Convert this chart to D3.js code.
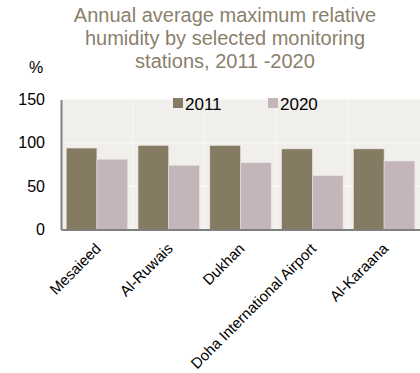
<!DOCTYPE html>
<html>
<head>
<meta charset="utf-8">
<script src="https://cdn.jsdelivr.net/npm/d3@7"></script>
<style>
  body { margin: 0; background: #fff; }
  svg text { font-family: "Liberation Sans", Arial, sans-serif; }
</style>
</head>
<body>
<div id="chart"></div>
<script>
// data
let stations = ["Mesaieed", "Al-Ruwais", "Dukhan", "Doha International Airport", "Al-Karaana"];
let years = ["2011", "2020"];
let values2011 = [94, 97, 97, 93, 93];
let values2020 = [81, 74, 77, 62, 79];
let yTicks = [0, 50, 100, 150];
let titleLines = ["Annual average maximum relative", "humidity by selected monitoring", "stations, 2011 -2020"];

let colors = {"2011": "#857a62", "2020": "#c4b5bb"};

let width = 420, height = 373;
let margin = {top: 99.5, right: 0, bottom: 143.5, left: 61};

let svg = d3.select("#chart").append("svg")
    .attr("width", width)
    .attr("height", height);

//title
svg.append("text")
    .attr("text-anchor", "middle")
    .attr("fill", "#8a806c")
    .attr("font-size", 20)
    .selectAll("tspan")
    .data(titleLines)
    .join("tspan")
    .attr("x", 225)
    .attr("y", (d, i) => 21.7 + i * 23.3)
    .text(d => d);

let x = d3.scaleBand()
    .domain(stations)
    .range([margin.left, width - margin.right]);

let xInner = d3.scaleBand()
    .domain(years)
    .range([0, x.bandwidth()])
    .paddingOuter(0.17);

let y = d3.scaleLinear()
    .domain([0, 150])
    .range([height - margin.bottom, margin.top]);

//plot background
svg.append("rect")
    .attr("x", margin.left)
    .attr("y", y(150))
    .attr("width", width - margin.right - margin.left)
    .attr("height", y(0) - y(150))
    .attr("fill", "#f0efeb");

//grid lines
svg.append("g")
    .selectAll("line")
    .data(yTicks.slice(1, 3))
    .join("line")
    .attr("x1", margin.left).attr("x2", width)
    .attr("y1", d => y(d)).attr("y2", d => y(d))
    .attr("stroke", "#fafaf8").attr("stroke-width", 1);

svg.append("g")
    .selectAll("line")
    .data(stations.slice(1))
    .join("line")
    .attr("x1", d => x(d)).attr("x2", d => x(d))
    .attr("y1", y(150)).attr("y2", y(0))
    .attr("stroke", "#f8f8f6").attr("stroke-width", 1);

//bars
let rows = stations.map((s, i) => ({station: s, vals: [values2011[i], values2020[i]]}));

svg.append("g")
    .selectAll("g")
    .data(rows)
    .join("g")
    .attr("transform", d => `translate(${x(d.station)},0)`)
    .selectAll("rect")
    .data(d => d.vals.map((v, j) => ({year: years[j], value: v})))
    .join("rect")
    .attr("x", d => xInner(d.year))
    .attr("y", d => y(d.value))
    .attr("width", xInner.bandwidth())
    .attr("height", d => y(0) - y(d.value))
    .attr("fill", d => colors[d.year])
    .attr("stroke", "#e6e2da")
    .attr("stroke-width", 0.6);

//y axis
let yAxis = svg.append("g")
    .attr("transform", `translate(${margin.left},0)`)
    .call(d3.axisLeft(y).tickValues(yTicks).tickSize(0).tickPadding(16));
yAxis.select(".domain").attr("stroke", "#808080").attr("stroke-width", 2);
yAxis.selectAll("text")
    .attr("font-size", 16)
    .attr("fill", "#000")
    .attr("font-family", "Liberation Sans, Arial, sans-serif");

//x axis
let xAxis = svg.append("g")
    .attr("transform", `translate(0,${y(0)})`)
    .call(d3.axisBottom(x).tickSize(0));
xAxis.select(".domain").attr("stroke", "#808080").attr("stroke-width", 2);
xAxis.selectAll("text")
    .attr("font-size", 15)
    .attr("fill", "#000")
    .attr("font-family", "Liberation Sans, Arial, sans-serif")
    .attr("text-anchor", "end")
    .attr("y", 0)
    .attr("dx", 0)
    .attr("dy", 0)
    .attr("transform", "translate(5,20) rotate(-45)");

//% label
svg.append("text")
    .attr("x", 36)
    .attr("y", 73)
    .attr("text-anchor", "middle")
    .attr("font-size", 16)
    .text("%");

//legend
let legend = svg.append("g")
    .selectAll("g")
    .data(years)
    .join("g")
    .attr("transform", (d, i) => `translate(${173 + i * 95},${98})`);
legend.append("rect")
    .attr("width", 10).attr("height", 10)
    .attr("fill", d => colors[d]);
legend.append("text")
    .attr("x", 12)
    .attr("y", 11.5)
    .attr("font-size", 17)
    .text(d => d);
</script>
</body>
</html>
